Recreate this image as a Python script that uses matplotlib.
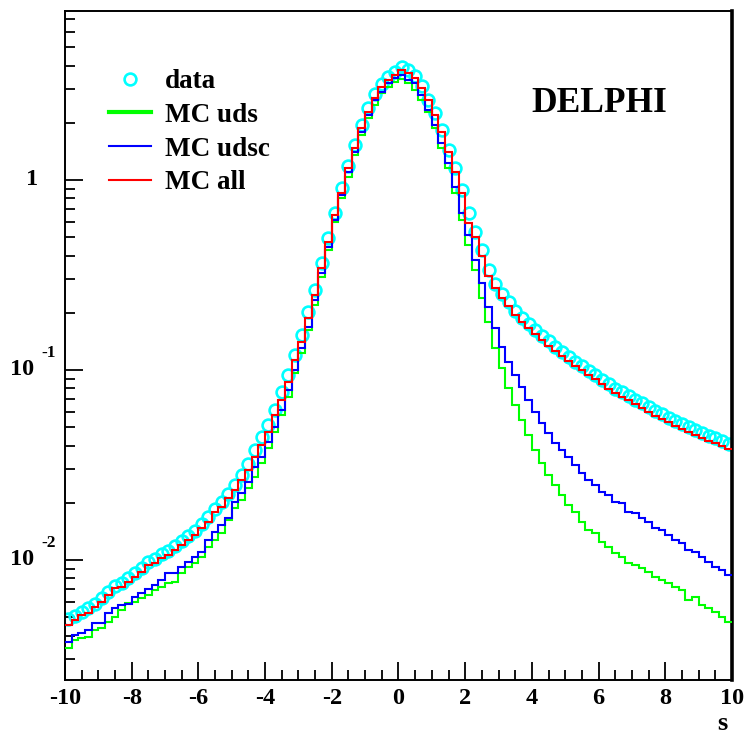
"""DELPHI s-distribution: data vs MC (uds / udsc / all), log scale."""

import matplotlib
matplotlib.use("Agg")
import matplotlib.pyplot as plt
import numpy as np
from matplotlib.ticker import FixedLocator, NullFormatter
from matplotlib.transforms import offset_copy

plt.rcParams["font.family"] = ["Liberation Serif", "DejaVu Serif"]
plt.rcParams["font.weight"] = "bold"

# histogram binning: 100 bins of 0.2 from -10 to 10
S_MIN, S_MAX, N_BINS = -10.0, 10.0, 100

data = [
    0.00489, 0.00507, 0.00532, 0.00559, 0.00587, 0.00631, 0.00679, 0.0073, 0.00757, 0.00804,
    0.00854, 0.00908, 0.00976, 0.01012, 0.01076, 0.01115, 0.01185, 0.01259, 0.01338, 0.01421,
    0.01547, 0.01684, 0.01856, 0.0202, 0.02226, 0.02482, 0.02801, 0.03201, 0.03793, 0.0444,
    0.05135, 0.06158, 0.0766, 0.0941, 0.1199, 0.1528, 0.202, 0.2637, 0.3658, 0.4952,
    0.6704, 0.9076, 1.185, 1.528, 1.948, 2.393, 2.835, 3.201, 3.485, 3.702,
    3.934, 3.793, 3.527, 3.124, 2.637, 2.253, 1.833, 1.438, 1.156, 0.8859,
    0.6704, 0.5325, 0.4281, 0.336, 0.2835, 0.2512, 0.228, 0.2044, 0.1878, 0.1746,
    0.1624, 0.151, 0.1421, 0.1322, 0.1244, 0.117, 0.1102, 0.1049, 0.0988, 0.0941,
    0.0886, 0.0844, 0.0794, 0.0766, 0.073, 0.0695, 0.067, 0.0639, 0.0608, 0.0587,
    0.0559, 0.0539, 0.052, 0.0501, 0.0483, 0.0466, 0.0449, 0.0439, 0.0423, 0.0408,
]

mc_uds = [
    0.00344, 0.00379, 0.00389, 0.00393, 0.00428, 0.00439, 0.00472, 0.00501, 0.00546, 0.00594,
    0.00601, 0.00631, 0.00654, 0.00695, 0.00721, 0.00757, 0.00766, 0.00854, 0.00919, 0.00964,
    0.01037, 0.0117, 0.01274, 0.01387, 0.01624, 0.01878, 0.02069, 0.02393, 0.02734, 0.0324,
    0.03886, 0.04718, 0.05796, 0.0721, 0.0964, 0.1229, 0.1624, 0.2198, 0.3086, 0.4281,
    0.6011, 0.804, 1.037, 1.354, 1.725, 2.12, 2.482, 2.87, 3.086, 3.28,
    3.401, 3.24, 2.976, 2.637, 2.28, 1.878, 1.473, 1.156, 0.8543, 0.6158,
    0.4549, 0.336, 0.2393, 0.1789, 0.1306, 0.1024, 0.0804, 0.0654, 0.05455, 0.04549,
    0.03793, 0.0324, 0.02801, 0.02482, 0.02198, 0.01948, 0.01789, 0.01585, 0.01438, 0.01387,
    0.01244, 0.0117, 0.01089, 0.01037, 0.00964, 0.00941, 0.00908, 0.00865, 0.00814, 0.00785,
    0.00757, 0.00721, 0.00695, 0.00616, 0.00639, 0.0058, 0.00559, 0.00532, 0.00501, 0.00472,
]

mc_udsc = [
    0.0037, 0.00403, 0.00413, 0.00428, 0.00466, 0.00468, 0.00526, 0.00559, 0.0058, 0.00587,
    0.00639, 0.0067, 0.00704, 0.00739, 0.00785, 0.00854, 0.00858, 0.00919, 0.00976, 0.01037,
    0.01102, 0.01274, 0.01404, 0.01528, 0.01663, 0.0202, 0.02253, 0.02574, 0.03086, 0.03485,
    0.04179, 0.05012, 0.06158, 0.07848, 0.1, 0.1306, 0.1684, 0.2336, 0.324, 0.444,
    0.6158, 0.8338, 1.102, 1.404, 1.789, 2.198, 2.637, 2.905, 3.24, 3.443,
    3.57, 3.36, 3.24, 2.801, 2.336, 1.948, 1.566, 1.229, 0.9187, 0.6704,
    0.5135, 0.3793, 0.287, 0.2145, 0.1663, 0.1322, 0.1102, 0.0941, 0.0814, 0.0695,
    0.0601, 0.0526, 0.0466, 0.0413, 0.0379, 0.0349, 0.0316, 0.0287, 0.0264, 0.0248,
    0.0228, 0.022, 0.0202, 0.02, 0.0179, 0.0177, 0.0166, 0.0159, 0.0147, 0.0144,
    0.0135, 0.0127, 0.0123, 0.0113, 0.011, 0.0104, 0.00976, 0.00919, 0.00886, 0.00834,
]

mc_all = [
    0.00455, 0.00483, 0.00514, 0.00526, 0.00566, 0.00601, 0.00654, 0.00712, 0.00721, 0.00766,
    0.00814, 0.00865, 0.00941, 0.00964, 0.01024, 0.01062, 0.01129, 0.01199, 0.01274, 0.01354,
    0.01473, 0.01585, 0.01789, 0.01901, 0.0212, 0.02336, 0.02637, 0.02976, 0.03485, 0.0403,
    0.04718, 0.05796, 0.06952, 0.08647, 0.1129, 0.1404, 0.1878, 0.2482, 0.3443, 0.4718,
    0.6543, 0.8543, 1.156, 1.473, 1.878, 2.28, 2.701, 3.086, 3.36, 3.57,
    3.793, 3.658, 3.443, 3.049, 2.637, 2.198, 1.789, 1.404, 1.102, 0.8543,
    0.5938, 0.5012, 0.3982, 0.3124, 0.2701, 0.2393, 0.2172, 0.1948, 0.1789, 0.1663,
    0.1547, 0.1438, 0.1338, 0.1259, 0.1185, 0.1115, 0.1049, 0.1, 0.0941, 0.0897,
    0.0844, 0.0794, 0.0757, 0.0721, 0.0695, 0.0663, 0.0631, 0.0601, 0.0573, 0.0552,
    0.0532, 0.0507, 0.0489, 0.0472, 0.0455, 0.0439, 0.0423, 0.0413, 0.0398, 0.0384,
]

labels = ["data", "MC uds", "MC udsc", "MC all"]
x_ticks = [-10, -8, -6, -4, -2, 0, 2, 4, 6, 8, 10]


def main():
    edges = np.linspace(S_MIN, S_MAX, N_BINS + 1)
    centers = 0.5 * (edges[:-1] + edges[1:])

    fig = plt.figure(figsize=(7.46, 7.44), dpi=100)
    ax = fig.add_axes([0.0871, 0.086, 0.8941, 0.8992])

    ax.plot(centers, data, ls="none", marker="o", ms=8.5, mfc="none",
            mec="#00ffff", mew=1.9, label=labels[0], zorder=2)
    ax.stairs(mc_uds, edges, baseline=None, color="#00ff00", lw=1.5,
              label=labels[1], zorder=3)
    ax.stairs(mc_udsc, edges, baseline=None, color="#0000ff", lw=1.5,
              label=labels[2], zorder=4)
    ax.stairs(mc_all, edges, baseline=None, color="#ff0000", lw=1.5,
              label=labels[3], zorder=5)

    ax.set_yscale("log")
    ax.set_xlim(S_MIN, S_MAX)
    ax.set_ylim(0.002335, 7.75)

    # x ticks, ROOT style (inside, bottom only)
    ax.set_xticks(x_ticks)
    ax.set_xticklabels([str(v) for v in x_ticks])
    ax.xaxis.set_minor_locator(FixedLocator(np.arange(-9.5, 10, 0.5)))
    ax.tick_params(axis="x", which="major", direction="in", length=13,
                   width=1.3, labelsize=17.5, pad=6, top=False)
    ax.tick_params(axis="x", which="minor", direction="in", length=7,
                   width=1.3, top=False)

    # y ticks with hand-placed ROOT-like labels
    dec = [0.01, 0.1, 1.0]
    ax.yaxis.set_major_locator(FixedLocator(dec))
    minors = [m * d for d in [0.001, 0.01, 0.1, 1.0] for m in range(2, 10)]
    ax.yaxis.set_minor_locator(FixedLocator(minors))
    ax.yaxis.set_major_formatter(NullFormatter())
    ax.yaxis.set_minor_formatter(NullFormatter())
    ax.tick_params(axis="y", which="major", direction="in", length=13,
                   width=1.3, right=False)
    ax.tick_params(axis="y", which="minor", direction="in", length=7,
                   width=1.3, right=False)

    ytr = ax.get_yaxis_transform()
    sup = offset_copy(ytr, fig=fig, y=12, units="points")
    ax.text(-0.04, 1.0, "1", transform=ytr, ha="right", va="center",
            fontsize=17.5, fontweight="bold")
    for d, e in [(0.1, "-1"), (0.01, "-2")]:
        ax.text(-0.047, d, "10", transform=ytr, ha="right", va="center",
                fontsize=17.5, fontweight="bold")
        ax.text(-0.035, d, e, transform=sup, ha="left", va="center",
                fontsize=12.5, fontweight="bold")

    for side in ["left", "bottom", "top"]:
        ax.spines[side].set_linewidth(1.4)
    ax.spines["right"].set_linewidth(2.6)

    leg = ax.legend(loc="upper left", bbox_to_anchor=(0.066, 0.913),
                    frameon=False, handlelength=1.56,
                    handletextpad=0.52, labelspacing=0.32, borderpad=0,
                    borderaxespad=0, prop={"weight": "bold", "size": 19.5})
    leg.get_lines()[1].set_linewidth(3.0)

    ax.text(0.699, 0.862, "DELPHI", transform=ax.transAxes, ha="left",
            va="center", fontsize=25.5, fontweight="bold")
    fig.text(0.968, 0.028, "s", ha="center", va="center", fontsize=19,
             fontweight="bold")

    fig.savefig("out.png", dpi=100)
    plt.close(fig)


if __name__ == "__main__":
    main()
